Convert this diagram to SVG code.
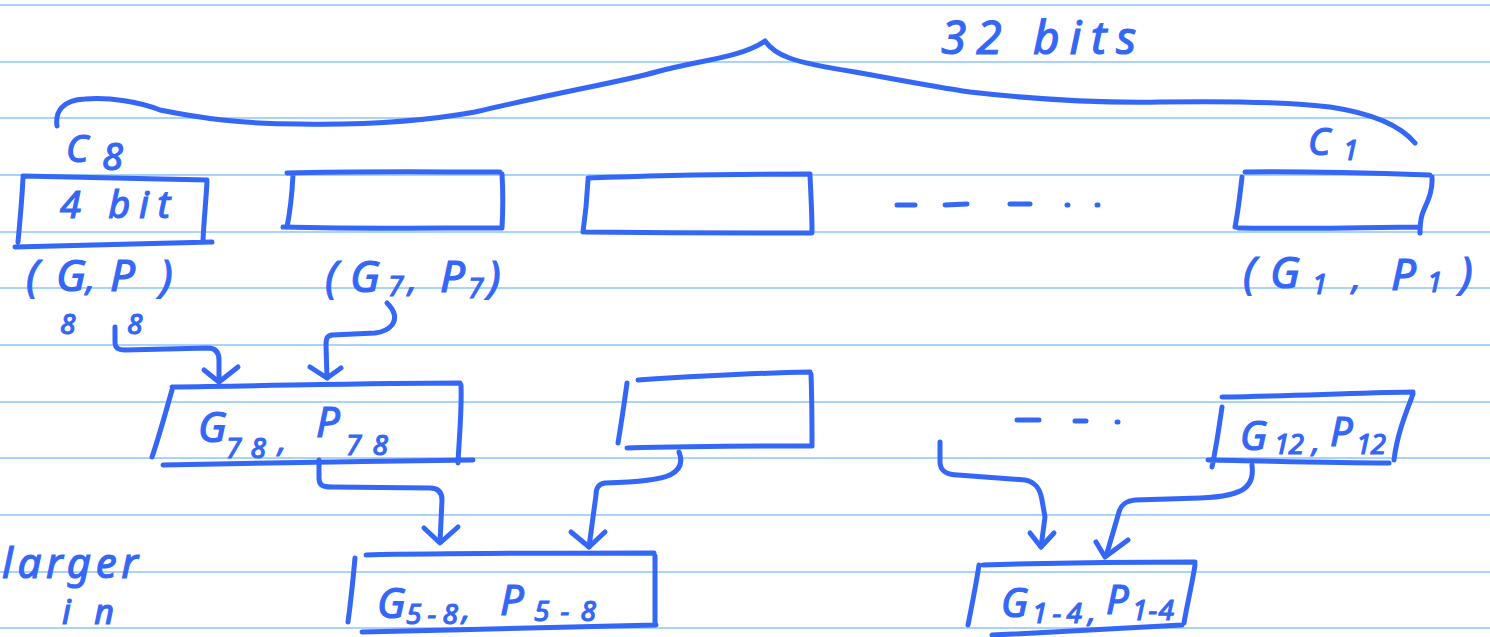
<svg xmlns="http://www.w3.org/2000/svg" width="1490" height="637" viewBox="0 0 1490 637">
<style>
.rule{stroke:#a9d3fb;stroke-width:2}
.ink{fill:none;stroke:#3467f6;stroke-width:5;stroke-linecap:round;stroke-linejoin:round}
.t{font-family:"Noto Sans","DejaVu Sans",sans-serif;font-style:italic;fill:#3467f6;stroke:#3467f6;stroke-width:1.2}
.big{font-size:44px}
.sub{font-size:28px}
</style>
<rect width="1490" height="637" fill="#ffffff"/>
<g id="ruled-lines">
<line class="rule" x1="0" y1="5" x2="1490" y2="5"/>
<line class="rule" x1="0" y1="62" x2="1490" y2="62"/>
<line class="rule" x1="0" y1="118" x2="1490" y2="118"/>
<line class="rule" x1="0" y1="175" x2="1490" y2="175"/>
<line class="rule" x1="0" y1="232" x2="1490" y2="232"/>
<line class="rule" x1="0" y1="288" x2="1490" y2="288"/>
<line class="rule" x1="0" y1="345" x2="1490" y2="345"/>
<line class="rule" x1="0" y1="402" x2="1490" y2="402"/>
<line class="rule" x1="0" y1="458" x2="1490" y2="458"/>
<line class="rule" x1="0" y1="515" x2="1490" y2="515"/>
<line class="rule" x1="0" y1="572" x2="1490" y2="572"/>
<line class="rule" x1="0" y1="628" x2="1490" y2="628"/>
</g>
<g id="brace">
<path class="ink" d="M57,126 C55,112 62,100 85,99 C110,97 140,102 160,110 C200,118 240,124 300,124 C360,125 420,122 475,112 C560,92 620,82 656,72 C700,60 740,58 765,41 C775,55 790,62 855,72 C900,80 930,86 970,92 C1040,100 1100,103 1160,102 C1230,101 1290,102 1330,107 C1370,113 1400,125 1415,143"/>
<text class="t" x="941" y="54" font-size="46" textLength="195" lengthAdjust="spacing">32 bits</text>
</g>
<g id="node-c8">
<path class="ink" d="M23,176 L207,180 M207,182 C206,200 204,220 203,240 M15,247 L212,242 M23,178 C22,200 20,220 18,242"/>
<text class="t" x="60" y="218" font-size="38" textLength="110" lengthAdjust="spacing">4 bit</text>
<text class="t" x="66" y="162" font-size="38">C<tspan x="102" y="170">8</tspan></text>
<text class="t big" y="291"><tspan x="26">(</tspan><tspan x="56">G</tspan><tspan x="86" font-size="34">,</tspan><tspan x="110">P</tspan><tspan x="160">)</tspan></text>
<text class="t sub" y="334"><tspan x="60">8</tspan><tspan x="127">8</tspan></text>
</g>
<g id="node-c7">
<path class="ink" d="M287,173 C360,171 430,172 500,172 M502,174 C503,190 503,210 502,228 M283,227 C360,229 430,228 500,228 M293,175 C292,195 290,212 287,227"/>
<text class="t big" y="292"><tspan x="325">(</tspan><tspan x="350">G</tspan><tspan class="sub" x="388" y="296">7</tspan><tspan x="408" y="292" font-size="34">,</tspan><tspan x="440">P</tspan><tspan class="sub" x="468" y="298">7</tspan><tspan x="488" y="292">)</tspan></text>
</g>
<g id="node-c6">
<path class="ink" d="M588,178 C660,175 740,174 810,174 M810,176 C811,195 812,215 812,232 M585,232 C660,233 740,233 812,233 M588,180 C587,200 585,218 583,232"/>
</g>
<g id="dots-top">
<path class="ink" d="M897,205 L915,205 M945,205 L967,204 M1010,204 L1030,204 M1067,205 L1068,205 M1097,205 L1098,205"/>
</g>
<g id="node-c1">
<path class="ink" d="M1245,172 C1310,171 1370,173 1430,175 M1432,177 C1433,195 1425,205 1422,215 C1420,222 1420,228 1420,233 M1238,228 C1300,229 1360,228 1418,227 M1242,177 C1240,195 1238,212 1235,227"/>
<text class="t" x="1308" y="155" font-size="38">C<tspan class="sub" x="1343" y="160">1</tspan></text>
<text class="t big" y="288"><tspan x="1243">(</tspan><tspan x="1270">G</tspan><tspan class="sub" x="1312" y="294">1</tspan><tspan x="1352" y="290" font-size="34">,</tspan><tspan x="1391">P</tspan><tspan class="sub" x="1427" y="292">1</tspan><tspan x="1460" y="288">)</tspan></text>
</g>
<g id="node-g78">
<path class="ink" d="M172,387 C270,386 370,383 460,383 M461,385 C462,410 459,440 458,463 M163,465 C260,463 370,461 473,460 M172,390 C165,415 158,440 152,457"/>
<text class="t" x="198" y="442" font-size="42">G<tspan class="sub" x="226" y="458" textLength="40" lengthAdjust="spacing">78</tspan><tspan x="278" y="452" font-size="32">,</tspan><tspan x="316" y="437">P</tspan><tspan class="sub" x="346" y="455" textLength="42" lengthAdjust="spacing">78</tspan></text>
</g>
<g id="node-mid">
<path class="ink" d="M638,380 C700,376 760,373 810,372 M811,374 C812,400 812,425 812,446 M627,448 C700,446 760,446 810,446 M627,383 C624,405 621,425 618,443"/>
</g>
<g id="dots-mid">
<path class="ink" d="M1017,420 L1039,420 M1075,421 L1086,421 M1117,422 L1118,422"/>
</g>
<g id="node-g12">
<path class="ink" d="M1222,397 C1290,396 1350,393 1413,392 M1413,394 C1405,415 1397,435 1394,460 M1208,460 C1270,461 1330,463 1389,463 M1222,407 C1219,428 1216,448 1212,467"/>
<text class="t" x="1240" y="450" font-size="40">G<tspan class="sub" x="1274" y="454" textLength="30" lengthAdjust="spacing">12</tspan><tspan x="1312" y="452" font-size="30">,</tspan><tspan x="1330" y="446">P</tspan><tspan class="sub" x="1356" y="454" textLength="30" lengthAdjust="spacing">12</tspan></text>
</g>
<g id="node-g58">
<path class="ink" d="M366,555 C460,553 560,553 654,553 M655,556 C655,580 655,605 655,625 M362,632 C460,630 560,627 656,625 M355,558 C353,580 351,600 348,622"/>
<text class="t" x="377" y="618" font-size="42">G<tspan class="sub" x="406" y="624" textLength="52" lengthAdjust="spacing">5-8</tspan><tspan x="462" y="620" font-size="32">,</tspan><tspan x="500" y="615">P</tspan><tspan class="sub" x="534" y="621" textLength="62" lengthAdjust="spacing">5-8</tspan></text>
</g>
<g id="node-g14">
<path class="ink" d="M983,565 C1050,563 1130,562 1195,562 M1195,565 C1192,585 1187,605 1184,623 M992,635 C1060,632 1130,628 1182,625 M979,565 C976,585 972,605 968,625"/>
<text class="t" x="1001" y="617" font-size="40">G<tspan class="sub" x="1032" y="623" textLength="50" lengthAdjust="spacing">1-4</tspan><tspan x="1088" y="622" font-size="30">,</tspan><tspan x="1106" y="614">P</tspan><tspan class="sub" x="1132" y="620" textLength="42" lengthAdjust="spacing">1-4</tspan></text>
</g>
<g id="note">
<text class="t" x="2" y="578" font-size="42" textLength="136" lengthAdjust="spacing">larger</text>
<text class="t" x="62" y="624" font-size="34" textLength="52" lengthAdjust="spacing">in</text>
</g>
<g id="connectors">
<path class="ink" d="M115,327 L115,342 C115,348 118,350 125,350 L208,348 C215,348 219,352 219,360 L219,381"/>
<path class="ink" d="M204,370 L219,382 L238,367"/>
<path class="ink" d="M387,303 C394,310 397,318 392,325 C388,330 383,332 375,333 L332,335 C327,336 326,338 326,345 L327,378"/>
<path class="ink" d="M310,367 L327,378 L341,368"/>
<path class="ink" d="M319,460 L319,478 C319,485 322,487 332,487 L430,488 C438,488 442,492 442,500 L440,542"/>
<path class="ink" d="M424,528 L440,543 L458,527"/>
<path class="ink" d="M679,452 C683,462 680,470 670,475 C660,480 640,482 605,483 C598,484 596,488 596,495 L589,547"/>
<path class="ink" d="M571,532 L589,547 L605,532"/>
<path class="ink" d="M940,442 L940,462 C940,470 946,475 958,475 L1025,480 C1035,482 1040,488 1042,500 L1045,517 L1041,547"/>
<path class="ink" d="M1030,533 L1041,547 L1054,533"/>
<path class="ink" d="M1252,465 C1253,475 1252,482 1245,488 C1238,494 1225,497 1200,498 L1135,500 C1125,501 1121,505 1119,512 L1107,553"/>
<path class="ink" d="M1096,542 L1105,557 L1128,540"/>
</g>
</svg>
